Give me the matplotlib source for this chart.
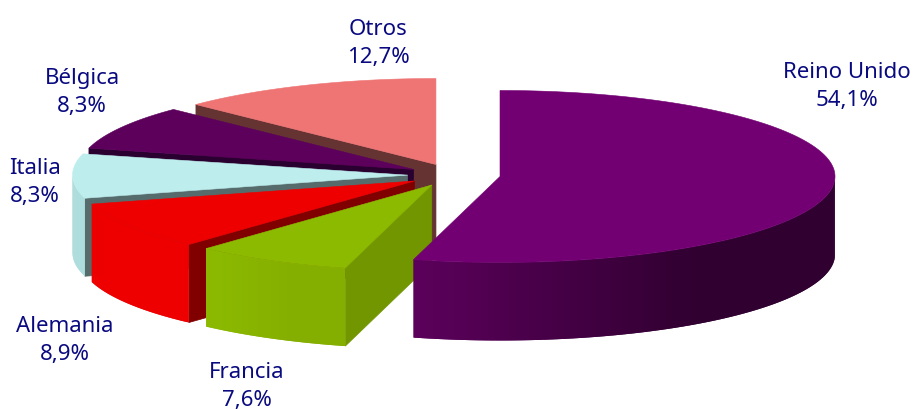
import numpy as np
import matplotlib
matplotlib.use("Agg")
import matplotlib.pyplot as plt
from matplotlib.collections import PolyCollection
from matplotlib.patches import Polygon

categories = ["Reino Unido", "Francia", "Alemania", "Italia", "Bélgica", "Otros"]
shares = [54.1, 7.6, 8.9, 8.3, 8.3, 12.7]

# top, cut face, outer wall left, outer wall right
top_colors = ["#720072", "#8cba00", "#ee0000", "#bdeded", "#5c005c", "#ef7575"]
cut_colors = ["#300030", "#719600", "#800000", "#566b6b", "#2a0030", "#663333"]
wall_light = ["#5c005c", "#8cba00", "#ee0000", "#a9dcdc", "#4a004a", "#b06060"]
wall_dark = ["#300030", "#84ae00", "#ee0000", "#a9dcdc", "#4a004a", "#b06060"]
label_pos = [(847, 86.5), (247, 386.5), (65, 340.5), (35, 182.5), (82, 92.5), (378, 43.5)]

# pie geometry in pixels
cx, cy = 454, 176
rx, ry = 335, 86
depth = 78
explode_x, explode_y = 46.4, 11.4
text_color = "#0a0a80"


def rgb(c):
    return np.array(matplotlib.colors.to_rgb(c))


def rim(xc, yc, a):
    # angle in radians, clockwise from 12 o'clock
    return xc + rx * np.sin(a), yc - ry * np.cos(a)


fig = plt.figure(figsize=(9.13, 4.10), dpi=100)
ax = fig.add_axes([0, 0, 1, 1])
ax.set_xlim(0, 913)
ax.set_ylim(410, 0)
ax.axis("off")

edges = np.concatenate([[0], np.cumsum(shares)]) / np.sum(shares) * 2 * np.pi

# painter's order: back slice first, going anticlockwise, the big one last
order = [5, 4, 3, 2, 1, 0]
z = 1
for i in order:
    a0, a1 = edges[i], edges[i + 1]
    mid = (a0 + a1) / 2
    xc = cx + explode_x * np.sin(mid)
    yc = cy - explode_y * np.cos(mid)

    # cut face on the start edge, only seen on the left half
    if a0 >= np.pi:
        sx, sy = rim(xc, yc, a0)
        ax.add_patch(Polygon([(xc, yc), (sx, sy), (sx, sy + depth), (xc, yc + depth)],
                             closed=True, fc=cut_colors[i], ec=cut_colors[i], lw=0.5, zorder=z))
        z += 1

    # outer wall, lower half of the rim only
    lo, hi = max(a0, np.pi / 2), min(a1, 3 * np.pi / 2)
    if hi > lo:
        ang = np.linspace(lo, hi, 90)
        x, y = rim(xc, yc, ang)
        strips = []
        colors = []
        # strips overlap the next one so no seams show
        for k in range(len(ang) - 1):
            e = min(k + 2, len(ang) - 1)
            arc = list(zip(x[k:e + 1], y[k:e + 1]))
            low = [(px, py + depth) for px, py in arc[::-1]]
            strips.append(arc + low)
            t = (x[k] - x.min()) / (x.max() - x.min())
            t = min(t / 0.68, 1)
            colors.append(rgb(wall_light[i]) * (1 - t) + rgb(wall_dark[i]) * t)
        ax.add_collection(PolyCollection(strips, facecolors=colors, edgecolors="none",
                                         linewidths=0, zorder=z))
        z += 1

    # top
    ang = np.linspace(a0, a1, 200)
    x, y = rim(xc, yc, ang)
    pts = np.column_stack([np.r_[xc, x], np.r_[yc, y]])
    ax.add_patch(Polygon(pts, closed=True, fc=top_colors[i], ec=top_colors[i], lw=0.4, zorder=z))
    z += 1

for name, val, pos in zip(categories, shares, label_pos):
    txt = name + "\n" + f"{val:.1f}%".replace(".", ",")
    ax.text(pos[0], pos[1], txt, ha="center", va="center", color=text_color,
            fontsize=16, family="Noto Sans", linespacing=1.45, zorder=z)

fig.savefig("out.png", dpi=100)
